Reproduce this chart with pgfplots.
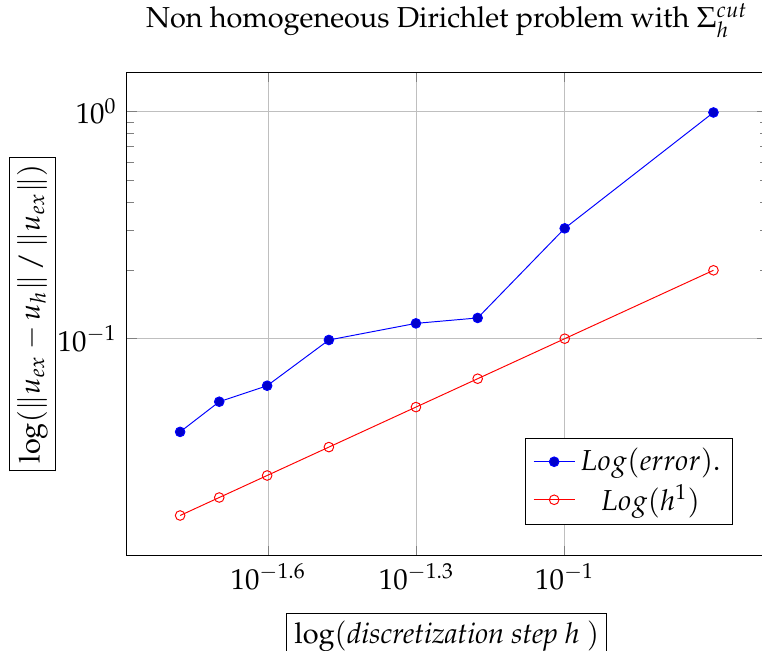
\documentclass[border=0pt,12pt]{standalone}
\usepackage[T1]{fontenc}
\usepackage{mathpazo}
\usepackage{pgfplots}
\pgfplotsset{compat=1.18}
\begin{document}
\begin{tikzpicture}
\begin{axis}[
  scale only axis,
  width=266pt, height=201pt,
  xmode=log, ymode=log,
  xtick={0.025118864,0.050118723,0.1},
  xticklabels={$10^{-1.6}$,$10^{-1.3}$,$10^{-1}$},
  minor xtick={},
  ytick={0.1,1},
  yticklabels={$10^{-1}$,$10^{0}$},
  grid=major,
  title={Non homogeneous Dirichlet problem with $\Sigma_h^{cut}$},
  title style={yshift=4pt},
  xlabel={\fbox{$\log($\textit{discretization step h }$)$}},
  ylabel={\fbox{$\log(\|u_{ex}-u_h\|\,/\,\|u_{ex}\|)$}},
  xticklabel style={yshift=1pt},
  xlabel style={yshift=-1.5pt},
  ylabel shift=-7.5pt,
  legend cell align=center,
  legend style={at={(0.947,0.064)}, anchor=south east},
]
\addplot[color=blue, mark=*, mark options={fill=blue!80!black}] coordinates {
  (0.0166667,0.0389) (0.02,0.0528) (0.025,0.0621) (0.0333333,0.0987)
  (0.05,0.1168) (0.0666667,0.1234) (0.1,0.306) (0.2,0.990)
};
\addlegendentry{$Log(error)$.}
\addplot[color=red, mark=o] coordinates {
  (0.0166667,0.0166667) (0.02,0.02) (0.025,0.025) (0.0333333,0.0333333)
  (0.05,0.05) (0.0666667,0.0666667) (0.1,0.1) (0.2,0.2)
};
\addlegendentry{$Log(h^1)$}
\end{axis}
\pgfresetboundingbox
\useasboundingbox ([xshift=-52.7pt,yshift=-39.4pt]current axis.south west) rectangle ([xshift=-2pt,yshift=30pt]current axis.north east);
\end{tikzpicture}
\end{document}
